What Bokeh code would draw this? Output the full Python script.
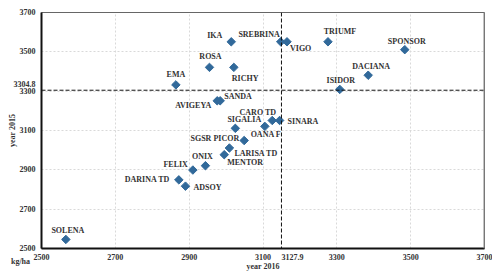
import math
from bokeh.plotting import figure
from bokeh.models import ColumnDataSource, Range1d, FixedTicker, Span, Label
from bokeh.core.properties import value
from bokeh.embed import file_html
from bokeh.resources import INLINE

# ---- data ----
varieties = ["SOLENA", "DARINA TD", "ADSOY", "FELIX", "ONIX", "MENTOR", "LARISA TD",
             "SGSR PICOR", "SIGALIA", "OANA F", "CARO TD", "SINARA", "AVIGEYA", "SANDA",
             "EMA", "ISIDOR", "IKA", "ROSA", "RICHY", "SREBRINA", "VIGO", "TRIUMF",
             "SPONSOR", "DACIANA"]
yield_2016 = [2566, 2872, 2890, 2910, 2944, 2995, 3009,
              3049, 3025, 3105, 3125, 3145, 2976, 2984,
              2864, 3308, 3014, 2955, 3021, 3148, 3165, 3276,
              3484, 3385]
yield_2015 = [2546, 2849, 2817, 2899, 2921, 2977, 3011,
              3049, 3111, 3121, 3151, 3151, 3251, 3251,
              3332, 3309, 3551, 3421, 3421, 3551, 3551, 3551,
              3511, 3381]
ticks = [2500, 2700, 2900, 3100, 3300, 3500, 3700]
mean_2015 = 3304.8
mean_2016_label = "3127.9"
mean_2016_line = 3150
x_title = "year 2016"
y_title = "year 2015"
unit_text = "kg/ha"

# label placement (screen px offsets, alignment)
placement = {
    "SOLENA": (2, -9, "center"), "DARINA TD": (-9, 0, "right"), "ADSOY": (8, 1, "left"),
    "FELIX": (-5, -6, "right"), "ONIX": (-3, -9, "center"), "MENTOR": (3, 8, "left"),
    "LARISA TD": (5, 5, "left"), "SGSR PICOR": (-5, -2, "right"), "SIGALIA": (9, -9, "center"),
    "OANA F": (1, 8, "center"), "CARO TD": (4, -8, "right"), "SINARA": (8, 1, "left"),
    "AVIGEYA": (-6, 5, "right"), "SANDA": (4, -4, "left"), "EMA": (0, -10, "center"),
    "ISIDOR": (1, -9, "center"), "IKA": (-9, -6, "right"), "ROSA": (1, -11, "center"),
    "RICHY": (-2, 11, "left"), "SREBRINA": (-1, -7, "right"), "VIGO": (3, 7, "left"),
    "TRIUMF": (12, -10, "center"), "SPONSOR": (2, -8, "center"), "DACIANA": (3, -9, "center"),
}

src = ColumnDataSource(dict(
    x=yield_2016, y=yield_2015, name=varieties,
    dx=[placement[n][0] for n in varieties],
    dy=[placement[n][1] for n in varieties],
    align=[placement[n][2] for n in varieties],
))

FONT = "Liberation Serif"
TXT = "#333333"

p = figure(width=492, height=273, output_backend="svg", toolbar_location=None,
           x_range=Range1d(2500, 3700), y_range=Range1d(2500, 3700),
           min_border_left=41, min_border_right=8, min_border_top=12, min_border_bottom=20)
p.background_fill_color = "white"
p.border_fill_color = "white"
p.outline_line_color = "#666666"
p.outline_line_width = 1

for ax in (p.xaxis[0], p.yaxis[0]):
    ax.major_tick_line_color = None
    ax.minor_tick_line_color = None
    ax.major_tick_out = 0
    ax.major_tick_in = 0
    ax.minor_tick_out = 0
    ax.minor_tick_in = 0
    ax.axis_line_color = "#111111"
    ax.axis_line_width = 2
    ax.major_label_text_font = FONT
    ax.major_label_text_font_style = "bold"
    ax.major_label_text_font_size = "8px"
    ax.major_label_text_color = TXT
    ax.axis_label_text_font = FONT
    ax.axis_label_text_font_style = "bold"
    ax.axis_label_text_font_size = "8px"
    ax.axis_label_text_color = TXT

# mean values shown as extra axis labels next to the dashed lines
p.yaxis.ticker = FixedTicker(ticks=ticks + [mean_2015])
p.yaxis.major_label_overrides = {mean_2015: f"{mean_2015}\n"}
p.xaxis.ticker = FixedTicker(ticks=ticks + [mean_2016_line])
p.xaxis.major_label_overrides = {mean_2016_line: "\u00a0" * 11 + mean_2016_label}

p.xaxis.major_label_standoff = 4
p.xaxis.axis_label = x_title
p.xaxis.axis_label_standoff = -3
p.yaxis.major_label_standoff = 6
p.yaxis.axis_label = y_title
p.yaxis.axis_label_standoff = -6

p.grid.grid_line_color = "#d9d9d9"
p.grid.grid_line_dash = "2 2"
p.grid.grid_line_width = 1
p.xgrid.ticker = FixedTicker(ticks=ticks)
p.ygrid.ticker = FixedTicker(ticks=ticks)

p.add_layout(Span(location=3700, dimension="height", line_color="#888888", line_width=2))
p.add_layout(Span(location=mean_2015, dimension="width", line_color="#111111",
                  line_width=1, line_dash="4 2"))
p.add_layout(Span(location=mean_2016_line, dimension="height", line_color="#111111",
                  line_width=1, line_dash="4 2"))

p.scatter("x", "y", source=src, marker="square", angle=math.pi / 4, size=6,
          fill_color="#31699a", line_color="#31699a")

p.text("x", "y", text="name", source=src, x_offset="dx", y_offset="dy",
       text_align="align", text_baseline="middle",
       text_font=value(FONT), text_font_style="bold", text_font_size="8px",
       text_color=TXT)

# unit label at the lower-left corner (in a side panel so it is not clipped)
p.add_layout(Label(x=2500, y=2500, x_offset=-21, y_offset=-13, text=unit_text, angle=0,
                   text_align="center", text_baseline="middle", text_font=FONT,
                   text_font_style="bold", text_font_size="8px", text_color=TXT), "above")

open("out.html", "w").write(file_html(p, INLINE))
